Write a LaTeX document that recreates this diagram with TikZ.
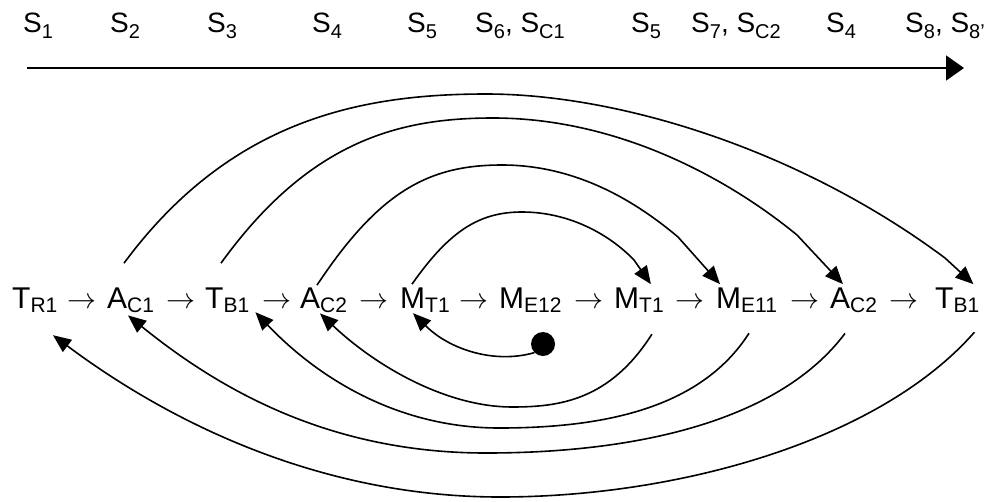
\documentclass[tikz,border=0pt]{standalone}
\usepackage{fontspec}
\setmainfont{Liberation Sans}
\usetikzlibrary{arrows.meta,calc}
\newcommand\msub[1]{\raisebox{-4pt}{\fontsize{21}{21}\selectfont #1}}
\newcommand\tsub[1]{\raisebox{-6pt}{\fontsize{20}{20}\selectfont #1}}
\newcommand\bigarr{\scalebox{2.9}{$\rightarrow$}}
\begin{document}
\begin{tikzpicture}[x=1pt,y=-1pt,
  term/.style={anchor=base west, inner sep=0pt, font=\fontsize{30}{30}\selectfont},
  arr/.style={anchor=base, inner sep=0pt},
  slabel/.style={anchor=base west, inner sep=0pt, font=\fontsize{28}{28}\selectfont},
  link/.style={line width=1.6pt, -{Triangle[length=18pt,width=15pt]}},
  axis/.style={line width=1.6pt, -{Triangle[length=18pt,width=25pt]}},
]
\useasboundingbox (0,0) rectangle (998,501);

% top labels
\node[slabel] (s1) at (23,32) {S\tsub{1}};
\node[slabel] (s2) at (110,32) {S\tsub{2}};
\node[slabel] (s3) at (207,32) {S\tsub{3}};
\node[slabel] (s4) at (312,32) {S\tsub{4}};
\node[slabel] (s5) at (407,32) {S\tsub{5}};
\node[slabel] (s6) at (475,32) {S\tsub{6}, S\tsub{C1}};
\node[slabel] (s5b) at (631,32) {S\tsub{5}};
\node[slabel] (s7) at (691,32) {S\tsub{7}, S\tsub{C2}};
\node[slabel] (s4b) at (826,32) {S\tsub{4}};
\node[slabel] (s8) at (905,32) {S\tsub{8}, S\tsub{8'}};

% axis
\coordinate (axL) at (27,68);
\coordinate (axR) at (964,68);
\draw[axis] (axL) -- (axR);

% main row
\node[term] (tr1) at (12,308) {T\msub{R1}};
\node[arr] (a1) at (82,308) {\bigarr};
\node[term] (ac1) at (107,308) {A\msub{C1}};
\node[arr] (a2) at (181,308) {\bigarr};
\node[term] (tb1) at (205,308) {T\msub{B1}};
\node[arr] (a3) at (277,308) {\bigarr};
\node[term] (ac2) at (300,308) {A\msub{C2}};
\node[arr] (a4) at (374,308) {\bigarr};
\node[term] (mt1) at (400,308) {M\msub{T1}};
\node[arr] (a5) at (474,308) {\bigarr};
\node[term] (me12) at (499,308) {M\msub{E12}};
\node[arr] (a6) at (589,308) {\bigarr};
\node[term] (mt1b) at (614,308) {M\msub{T1}};
\node[arr] (a7) at (690,308) {\bigarr};
\node[term] (me11) at (716,308) {M\msub{E11}};
\node[arr] (a8) at (805,308) {\bigarr};
\node[term] (ac2b) at (830,308) {A\msub{C2}};
\node[arr] (a9) at (904,308) {\bigarr};
\node[term] (tb1b) at (935,308) {T\msub{B1}};

% dot
\node[circle, fill=black, inner sep=0pt, minimum size=24pt] (dot) at (543,344) {};

% top curves
\draw[link] ([shift={(17,-24)}]ac1.north west) .. controls (230,120) and (360,94) .. (486,94)
  .. controls (620,94) and (800,150) .. (945,258) -- ([shift={(-6,-3)}]tb1b.north east);
\draw[link] ([shift={(16,-24)}]tb1.north west) .. controls (310,140) and (400,118) .. (493,118)
  .. controls (620,118) and (730,180) .. (797,235) -- ([shift={(13,-3)}]ac2b.north west);
\draw[link] ([shift={(17,-2)}]ac2.north west) .. controls (380,190) and (430,165) .. (502,165)
  .. controls (580,165) and (640,205) .. (678,237) -- ([shift={(4,-3)}]me11.north west);
\draw[link] ([shift={(12,-3)}]mt1.north west) .. controls (450,230) and (480,212) .. (522,212)
  .. controls (570,212) and (610,235) .. (634,260) -- ([shift={(-13,-3)}]mt1b.north east);

% bottom curves
\draw[link] (dot.225) .. controls (495,364) and (450,350) .. ([shift={(13,1)}]mt1.south west);
\draw[link] ([shift={(-12,22)}]mt1b.south east) .. controls (610,400) and (560,407) .. (512,407)
  .. controls (450,407) and (380,370) .. ([shift={(20,1)}]ac2.south west);
\draw[link] ([shift={(33,21)}]me11.south west) .. controls (700,410) and (600,428) .. (499,428)
  .. controls (400,428) and (320,380) .. ([shift={(6,0)}]tb1.south east);
\draw[link] ([shift={(15,21)}]ac2b.south west) .. controls (780,420) and (640,453) .. (486,453)
  .. controls (330,453) and (220,390) .. ([shift={(21,3)}]ac1.south west);
\draw[link] ([shift={(-5,20)}]tb1b.south east) .. controls (880,440) and (680,497) .. (500,497)
  .. controls (330,497) and (180,430) .. ([shift={(41,23)}]tr1.south west);
\end{tikzpicture}
\end{document}
